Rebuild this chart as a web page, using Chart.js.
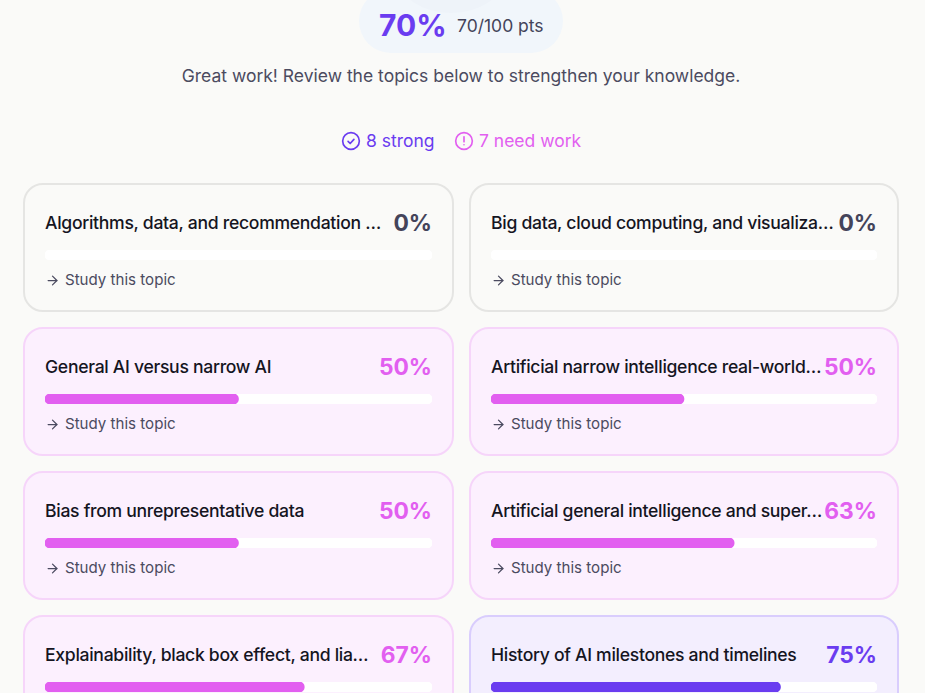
<!DOCTYPE html>
<html>
<head>
<meta charset="utf-8">
<script src="https://cdn.jsdelivr.net/npm/chart.js@4"></script>
<style>
  html, body { margin: 0; height: 693px; overflow: hidden; background: #fafaf8; font-family: Inter, sans-serif; }
  body { position: relative; width: 925px; }

  /* header */
  .pill { position: absolute; left: 359px; top: -11px; width: 204px; height: 64px; border-radius: 32px; background: #f1f6fb; overflow: hidden; }
  .pill .glow { position: absolute; left: 40px; top: -46px; width: 104px; height: 70px; border-radius: 50%; background: #eef3f9; }
  .pct { position: absolute; left: 20px; top: 14px; font-size: 30px; line-height: 44px; font-weight: 700; color: #6a3cf0; }
  .pts { position: absolute; left: 98px; top: 23px; font-size: 17.5px; line-height: 28px; color: #44445a; }
  .sub { position: absolute; left: 0; top: 65px; width: 922px; text-align: center; font-size: 17.5px; line-height: 22px; color: #4b4b60; }
  .legend { position: absolute; top: 129px; font-size: 17.5px; line-height: 24px; display: flex; align-items: center; gap: 5px; }
  .legend svg { width: 20px; height: 20px; }

  /* cards */
  .grid { position: absolute; left: 23px; top: 183px; width: 876px; display: grid; grid-template-columns: 431px 430px; column-gap: 15px; row-gap: 15px; }
  .card { box-sizing: border-box; height: 129px; border: 2px solid; border-radius: 20px; padding: 0 20px; position: relative; }
  .card.none { background: #fafaf8; border-color: #e5e5e3; }
  .card.weak { background: #fcf0fe; border-color: #f6d5fa; }
  .card.strong { background: #f3eefe; border-color: #d9cdfd; }
  .top { position: absolute; left: 20px; right: 20px; top: 23px; height: 28px; display: flex; justify-content: space-between; align-items: center; }
  .name { font-size: 17.6px; font-weight: 500; letter-spacing: -0.3px; color: #15151f; white-space: nowrap; }
  .val { font-size: 22.8px; font-weight: 700; }
  .none .val { color: #44445a; }
  .weak .val { color: #e25ff0; }
  .strong .val { color: #6a3cf0; }
  .bar { position: absolute; left: 20px; right: 20px; top: 65px; height: 10px; }
  .study { position: absolute; left: 20px; top: 85px; font-size: 15.1px; line-height: 20px; color: #4b4b60; display: flex; align-items: center; gap: 5px; }
  .study svg { width: 15px; height: 15px; }
</style>
</head>
<body>

<div class="pill">
  <div class="glow"></div>
  <div class="pct" id="overall"></div>
  <div class="pts" id="points"></div>
</div>
<div class="sub">Great work! Review the topics below to strengthen your knowledge.</div>

<div class="legend" style="left:341px;color:#6a3cf0">
  <svg viewBox="0 0 24 24" fill="none" stroke="currentColor" stroke-width="2" stroke-linecap="round" stroke-linejoin="round"><circle cx="12" cy="12" r="10"/><path d="m8.5 12.5 2.5 2.5 4.5-5"/></svg>
  <span id="strongText"></span>
</div>
<div class="legend" style="left:454px;color:#e25ff0">
  <svg viewBox="0 0 24 24" fill="none" stroke="currentColor" stroke-width="2" stroke-linecap="round" stroke-linejoin="round"><circle cx="12" cy="12" r="10"/><path d="M12 7v6"/><path d="M12 16.5v.01"/></svg>
  <span id="weakText"></span>
</div>

<div class="grid" id="grid"></div>

<script>
  /* ================= DATA ================= */
  const topics = [
    "Algorithms, data, and recommendation …",
    "Big data, cloud computing, and visualiza…",
    "General AI versus narrow AI",
    "Artificial narrow intelligence real-world…",
    "Bias from unrepresentative data",
    "Artificial general intelligence and super…",
    "Explainability, black box effect, and lia…",
    "History of AI milestones and timelines"
  ];
  const scores = [0, 0, 50, 50, 50, 63, 67, 75];
  const statuses = ["none", "none", "weak", "weak", "weak", "weak", "weak", "strong"];
  const overallScore = 70;
  const overallPoints = "70/100 pts";
  const strongCount = 8;
  const weakCount = 7;

  /* ================= COLORS ================= */
  const fillColors = { none: "#44445a", weak: "#e25ff0", strong: "#6a3cf0" };
  const trackColor = "#ffffff";

  /* ================= HEADER ================= */
  document.getElementById("overall").textContent = overallScore + "%";
  document.getElementById("points").textContent = overallPoints;
  document.getElementById("strongText").textContent = strongCount + " strong";
  document.getElementById("weakText").textContent = weakCount + " need work";

  /* ================= CARDS ================= */
  const grid = document.getElementById("grid");

  topics.forEach((topic, i) => {
    const card = document.createElement("div");
    card.className = "card " + statuses[i];
    // last row runs past the fold, its study link is not on screen
    const study = i < 6 ? `
      <div class="study">
        <svg viewBox="0 0 24 24" fill="none" stroke="currentColor" stroke-width="2" stroke-linecap="round" stroke-linejoin="round"><path d="M5 12h14"/><path d="m12 5 7 7-7 7"/></svg>
        Study this topic
      </div>` : "";
    card.innerHTML = `
      <div class="top"><span class="name">${topic}</span><span class="val">${scores[i]}%</span></div>
      <div class="bar"><canvas></canvas></div>${study}`;
    grid.appendChild(card);

    new Chart(card.querySelector("canvas"), {
      type: "bar",
      data: {
        labels: [topic],
        datasets: [
          // a 0 would still paint a sliver with the rounded corners
          { data: [scores[i] || null], backgroundColor: fillColors[statuses[i]], order: 1 },
          { data: [100], backgroundColor: trackColor, order: 2 }
        ]
      },
      options: {
        indexAxis: "y",
        responsive: true,
        maintainAspectRatio: false,
        animation: false,
        layout: { padding: 0 },
        datasets: { bar: { grouped: false, barThickness: 10, borderRadius: 5, borderSkipped: false } },
        plugins: { legend: { display: false }, tooltip: { enabled: false } },
        scales: {
          x: { display: false, min: 0, max: 100 },
          y: { display: false }
        }
      }
    });
  });
</script>
</body>
</html>
